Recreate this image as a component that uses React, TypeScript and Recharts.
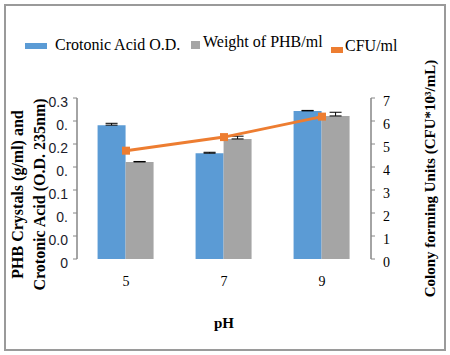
import React from "react";
import {
  ComposedChart,
  Bar,
  Line,
  XAxis,
  YAxis,
  ErrorBar,
  Legend,
} from "recharts";

// pH values on the category axis
const phLevels = ["5", "7", "9"];
// Crotonic acid O.D. (left axis)
const crotonicOD = [0.291, 0.23, 0.322];
const crotonicErr = [0.004, 0.002, 0.001];
// weight of PHB per ml (left axis)
const phbWeight = [0.211, 0.261, 0.311];
const phbErr = [0.001, 0.006, 0.008];
// CFU/ml (right axis)
const cfuPerMl = [4.71, 5.3, 6.19];

const leftTicks = [0, 0.05, 0.1, 0.15, 0.2, 0.25, 0.3, 0.35];
// labels are clipped in the original picture, keep them as shown
const leftTickLabels = ["0", "0.0", "0.", "0.1", "0.", "0.2", "0.", "0.3"];
const rightTicks = [0, 1, 2, 3, 4, 5, 6, 7];
const boundaryTicks = [0, 1, 2, 3];

const legendItems = [
  { name: "Crotonic Acid O.D.", color: "#5B9BD5" },
  { name: "Weight of PHB/ml", color: "#A5A5A5" },
  { name: "CFU/ml", color: "#ED7D31" },
];

const data = phLevels.map((ph, i) => ({
  ph,
  crotonic: crotonicOD[i],
  phb: phbWeight[i],
  cfu: cfuPerMl[i],
  crotonicErr: [0, crotonicErr[i]],
  phbErr: [0, phbErr[i]],
}));

const SERIF = "Liberation Serif, Times New Roman, serif";
const SANS = "Liberation Sans, Arial, sans-serif";
const AXIS_GREY = "#868686";

const LeftTitle = ({ viewBox }: any) => {
  const cy = viewBox.y + viewBox.height / 2 + 16;
  return (
    <g fontFamily={SERIF} fontWeight="bold" fontSize={16} fill="#000">
      <text x={23} y={cy} textAnchor="middle" transform={`rotate(-90, 23, ${cy})`}>
        PHB Crystals (g/ml) and
      </text>
      <text x={45} y={cy} textAnchor="middle" transform={`rotate(-90, 45, ${cy})`}>
        Crotonic Acid (O.D. 235nm)
      </text>
    </g>
  );
};

const RightTitle = ({ viewBox }: any) => {
  const cy = viewBox.y + viewBox.height / 2;
  const x = 435;
  return (
    <text
      x={x}
      y={cy}
      textAnchor="middle"
      transform={`rotate(-90, ${x}, ${cy})`}
      fontFamily={SERIF}
      fontWeight="bold"
      fontSize={15}
      fill="#000"
    >
      Colony forming Units (CFU*10³/mL)
    </text>
  );
};

const SquareDot = (props: any) => {
  const { cx, cy } = props;
  if (cx == null || cy == null) return null;
  return <rect x={cx - 4} y={cy - 4} width={8} height={8} fill="#ED7D31" />;
};

const textStyle: React.CSSProperties = {
  position: "absolute",
  whiteSpace: "nowrap",
  fontFamily: SERIF,
  fontSize: 16,
  lineHeight: "16px",
  color: "#000",
};

// legend drawn the way the picture shows it, swatches of differing shapes
const ChartLegend = () => (
  <div style={{ position: "relative", width: 450, height: 60 }}>
    <span style={{ position: "absolute", left: 25, top: 43, width: 22, height: 6, background: legendItems[0].color }} />
    <span style={{ ...textStyle, left: 55, top: 37 }}>{legendItems[0].name}</span>
    <span style={{ position: "absolute", left: 191, top: 41, width: 9, height: 8, background: legendItems[1].color }} />
    <span style={{ ...textStyle, left: 203, top: 34 }}>{legendItems[1].name}</span>
    <span style={{ position: "absolute", left: 331, top: 47, width: 12, height: 6, background: legendItems[2].color }} />
    <span style={{ ...textStyle, left: 345, top: 38 }}>{legendItems[2].name}</span>
  </div>
);

export default function App() {
  return (
    <div style={{ position: "absolute", left: 0, top: 0, width: 450, height: 355, background: "#fff" }}>
      <div
        style={{
          position: "absolute",
          left: 4,
          top: 4,
          width: 438,
          height: 343,
          border: "2px solid #9a9a9a",
        }}
      />
      <ComposedChart
        width={450}
        height={355}
        data={data}
        margin={{ top: 98, right: 0, bottom: 0, left: 0 }}
        barGap={0}
        barCategoryGap="21%"
      >
        <Legend
          layout="horizontal"
          verticalAlign="middle"
          align="center"
          wrapperStyle={{ top: 0, left: 0, width: 450, height: 60 }}
          content={() => <ChartLegend />}
        />
        {/* boundary ticks between the categories, Excel style */}
        <XAxis
          xAxisId="bounds"
          type="number"
          domain={[0, 3]}
          ticks={boundaryTicks}
          allowDataOverflow
          height={0}
          tick={false}
          tickSize={5}
          stroke={AXIS_GREY}
          axisLine={{ stroke: AXIS_GREY, strokeWidth: 1.5 }}
          tickLine={{ stroke: AXIS_GREY }}
        />
        <XAxis
          xAxisId="cat"
          dataKey="ph"
          height={96}
          axisLine={false}
          tickLine={false}
          tickSize={5}
          tickMargin={12}
          tick={{ fontFamily: SERIF, fontSize: 14, fill: "#000" }}
          label={{ value: "pH", position: "insideTop", offset: 58, fontFamily: SERIF, fontWeight: "bold", fontSize: 15, fill: "#000" }}
        />
        <YAxis
          yAxisId="left"
          domain={[0, 0.35]}
          ticks={leftTicks}
          width={77}
          tickSize={4}
          tickMargin={5}
          tickFormatter={(v: number, i: number) => leftTickLabels[i]}
          axisLine={{ stroke: AXIS_GREY, strokeWidth: 1.5 }}
          tickLine={{ stroke: AXIS_GREY }}
          tick={{ fontFamily: SANS, fontSize: 14, fill: "#1c1c2c", dy: 4 }}
          label={<LeftTitle />}
        />
        <YAxis
          yAxisId="right"
          orientation="right"
          domain={[0, 7]}
          ticks={rightTicks}
          width={79}
          tickSize={4}
          tickMargin={8}
          axisLine={{ stroke: AXIS_GREY, strokeWidth: 1.5 }}
          tickLine={{ stroke: AXIS_GREY }}
          tick={{ fontFamily: SERIF, fontSize: 14, fill: "#000", dy: 3 }}
          label={<RightTitle />}
        />
        <Bar xAxisId="cat" yAxisId="left" dataKey="crotonic" name={legendItems[0].name} fill={legendItems[0].color} isAnimationActive={false}>
          <ErrorBar dataKey="crotonicErr" width={6} stroke="#000" strokeWidth={1} />
        </Bar>
        <Bar xAxisId="cat" yAxisId="left" dataKey="phb" name={legendItems[1].name} fill={legendItems[1].color} isAnimationActive={false}>
          <ErrorBar dataKey="phbErr" width={6} stroke="#000" strokeWidth={1} />
        </Bar>
        <Line
          xAxisId="cat"
          yAxisId="right"
          dataKey="cfu"
          name={legendItems[2].name}
          stroke={legendItems[2].color}
          strokeWidth={3}
          dot={<SquareDot />}
          activeDot={false}
          isAnimationActive={false}
        />
      </ComposedChart>
    </div>
  );
}
